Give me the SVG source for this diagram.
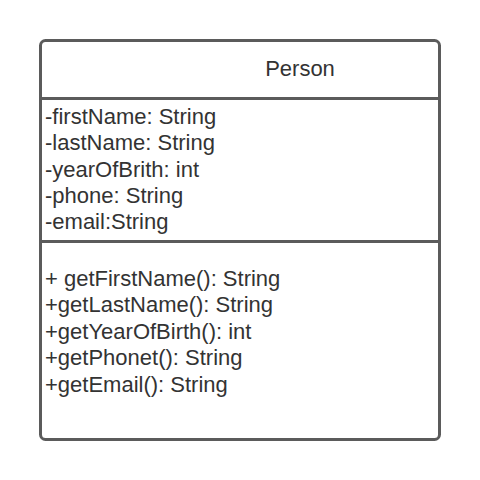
<svg xmlns="http://www.w3.org/2000/svg" width="480" height="480" viewBox="0 0 480 480">
<style>
.t{font-family:"Liberation Sans",Arial,sans-serif;font-size:22px;fill:#333333}
.b{fill:#ffffff;stroke:#5b5b5b;stroke-width:3}
.l{stroke:#5b5b5b;stroke-width:3}
</style>
<rect width="480" height="480" fill="#ffffff"/>
<g id="Person">
<rect class="b" x="40.5" y="40.5" width="399" height="399" rx="5"/>
<line class="l" x1="40" y1="98.5" x2="440" y2="98.5"/>
<line class="l" x1="40" y1="241.5" x2="440" y2="241.5"/>
<text class="t" x="300" y="76" text-anchor="middle">Person</text>
<text class="t" x="45" y="124">-firstName: String</text>
<text class="t" x="45" y="150">-lastName: String</text>
<text class="t" x="45" y="177">-yearOfBrith: int</text>
<text class="t" x="45" y="203">-phone: String</text>
<text class="t" x="45" y="229">-email:String</text>
<text class="t" x="45" y="286">+ getFirstName(): String</text>
<text class="t" x="45" y="312">+getLastName(): String</text>
<text class="t" x="45" y="339">+getYearOfBirth(): int</text>
<text class="t" x="45" y="365">+getPhonet(): String</text>
<text class="t" x="45" y="392">+getEmail(): String</text>
</g>
<g id="connectors"/>
</svg>
